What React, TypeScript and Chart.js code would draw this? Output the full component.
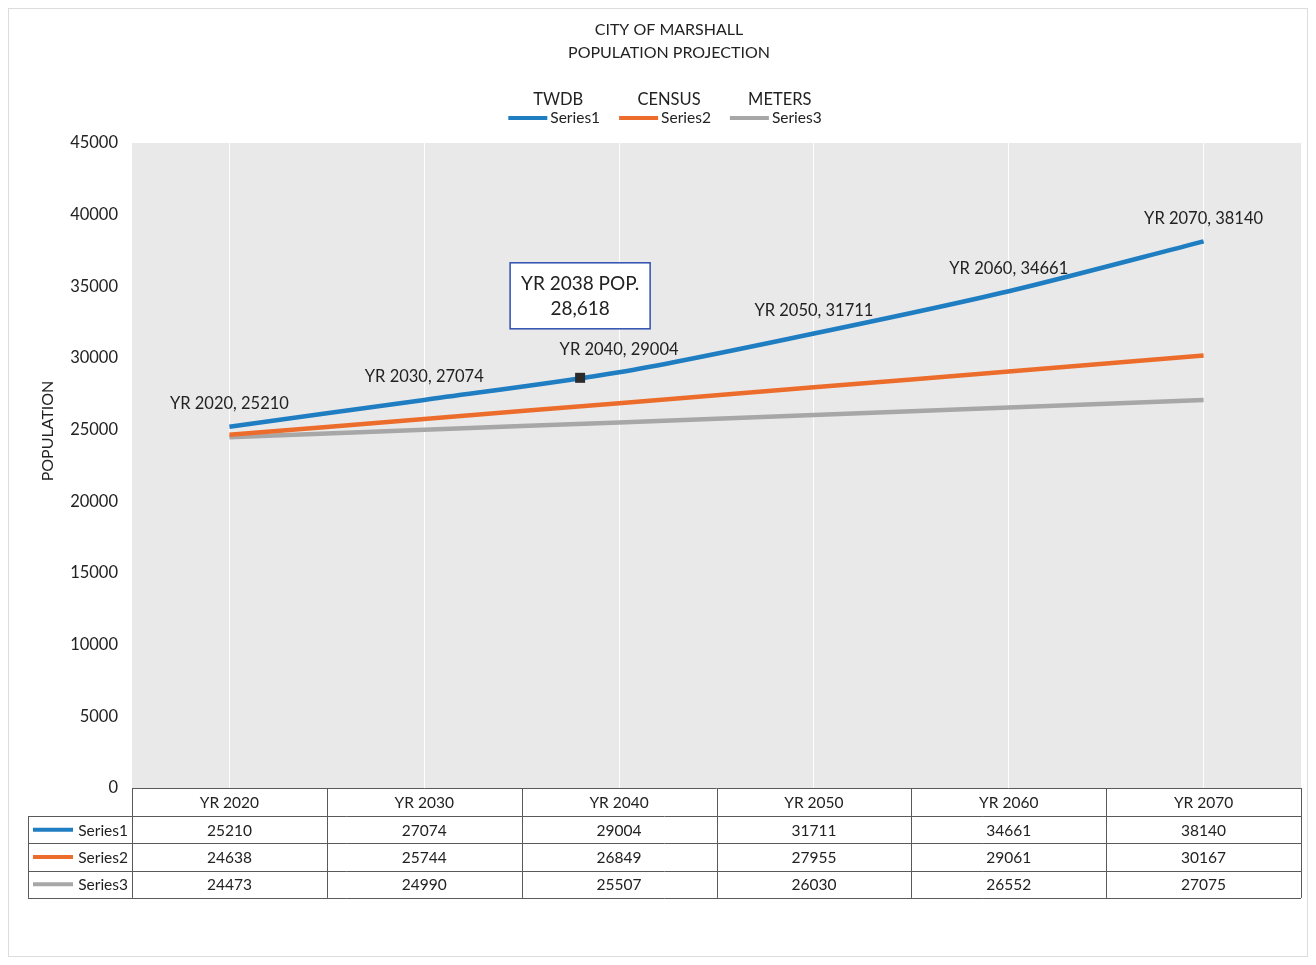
import React, { useEffect, useRef } from "react";
import { Chart, registerables } from "chart.js";

Chart.register(...registerables);

// ---------- data ----------
const categories = ["YR 2020", "YR 2030", "YR 2040", "YR 2050", "YR 2060", "YR 2070"];
const years = [2020, 2030, 2040, 2050, 2060, 2070];
const series1 = [25210, 27074, 29004, 31711, 34661, 38140];
const series2 = [24638, 25744, 26849, 27955, 29061, 30167];
const series3 = [24473, 24990, 25507, 26030, 26552, 27075];
const seriesNames = ["Series1", "Series2", "Series3"];
const legendGroups = ["TWDB", "CENSUS", "METERS"];
const titleLines = ["CITY OF MARSHALL", "POPULATION PROJECTION"];
const yAxisTitle = "POPULATION";
const yMin = 0;
const yMax = 45000;
const yStep = 5000;
const annotationYear = 2038;
const annotationPop = 28618;
const annotationLines = ["YR 2038 POP.", "28,618"];

const seriesColors = ["#1f7dc2", "#ec6c2c", "#a7a7a7"];
const FONT = "Lato, 'Open Sans', 'DejaVu Sans', sans-serif";
const TEXT = "#222222";

function font(size: number) {
  return `${size}px ${FONT}`;
}

const decorPlugin = {
  id: "decor",
  beforeDraw(chart: any) {
    const { ctx, chartArea, width, height } = chart;
    ctx.save();
    ctx.strokeStyle = "#dcdcdc";
    ctx.lineWidth = 1;
    ctx.strokeRect(0.5, 0.5, width - 1, height - 1);
    ctx.fillStyle = "#e9e9e9";
    ctx.fillRect(chartArea.left, chartArea.top, chartArea.right - chartArea.left, chartArea.bottom - chartArea.top);
    ctx.restore();
  },
  afterDatasetsDraw(chart: any) {
    const { ctx } = chart;
    const xs = chart.scales.x;
    const ys = chart.scales.y;
    ctx.save();
    ctx.font = font(16.5);
    ctx.fillStyle = TEXT;
    ctx.textAlign = "center";
    ctx.textBaseline = "middle";
    series1.forEach((v, i) => {
      const x = xs.getPixelForValue(i);
      const y = ys.getPixelForValue(v);
      ctx.fillText(`${categories[i]}, ${v}`, x, y - 23);
    });
    const idx = (annotationYear - years[0]) / (years[1] - years[0]);
    const mx = xs.getPixelForValue(idx);
    const my = ys.getPixelForValue(annotationPop);
    ctx.fillStyle = "#2b2b2b";
    ctx.fillRect(mx - 5, my - 5, 10, 10);
    const bw = 140;
    const bh = 66;
    const bx = mx - bw / 2;
    const by = my - 49 - bh;
    ctx.fillStyle = "#ffffff";
    ctx.fillRect(bx, by, bw, bh);
    ctx.strokeStyle = "#2e4fb0";
    ctx.lineWidth = 1.5;
    ctx.strokeRect(bx, by, bw, bh);
    ctx.fillStyle = TEXT;
    ctx.font = font(19);
    ctx.fillText(annotationLines[0], bx + bw / 2, by + bh / 2 - 12);
    ctx.fillText(annotationLines[1], bx + bw / 2, by + bh / 2 + 13);
    ctx.restore();
  },
  afterDraw(chart: any) {
    const { ctx, chartArea } = chart;
    const xs = chart.scales.x;
    ctx.save();
    ctx.fillStyle = TEXT;
    ctx.textBaseline = "middle";
    ctx.textAlign = "center";

    const cx = 661;
    ctx.font = font(16);
    ctx.fillText(titleLines[0], cx, 22);
    ctx.fillText(titleLines[1], cx, 45);

    const lineLen = 39;
    const gap = 3;
    const itemGap = 19;
    ctx.font = font(15.5);
    const widths = seriesNames.map((n) => lineLen + gap + ctx.measureText(n).width);
    const total = widths.reduce((a, b) => a + b, 0) + itemGap * (widths.length - 1);
    let lx = cx - 4 - total / 2;
    seriesNames.forEach((n, i) => {
      const w = widths[i];
      ctx.strokeStyle = seriesColors[i];
      ctx.lineWidth = 4;
      ctx.beginPath();
      ctx.moveTo(lx, 110);
      ctx.lineTo(lx + lineLen, 110);
      ctx.stroke();
      ctx.textAlign = "left";
      ctx.font = font(15.5);
      ctx.fillText(n, lx + lineLen + gap, 110);
      ctx.textAlign = "center";
      ctx.font = font(16.5);
      ctx.fillText(legendGroups[i], lx + w / 2 + 4, 92);
      lx += w + itemGap;
    });

    ctx.save();
    ctx.translate(40, 423);
    ctx.rotate(-Math.PI / 2);
    ctx.font = font(16);
    ctx.textAlign = "center";
    ctx.fillText(yAxisTitle, 0, 0);
    ctx.restore();

    const left = chartArea.left;
    const right = chartArea.right;
    const top = chartArea.bottom;
    const colW = (right - left) / categories.length;
    const headH = 28;
    const rowH = 27.3;
    const labelLeft = 20;
    const tableBottom = top + headH + rowH * 3;
    ctx.strokeStyle = "#5a5a5a";
    ctx.lineWidth = 1;
    const sx = (v: number) => Math.round(v) + 0.5;
    ctx.beginPath();
    ctx.moveTo(left, sx(top));
    ctx.lineTo(right, sx(top));
    for (let r = 0; r <= 3; r++) {
      const y = sx(top + headH + rowH * r);
      ctx.moveTo(labelLeft, y);
      ctx.lineTo(right, y);
    }
    ctx.moveTo(sx(labelLeft), top + headH);
    ctx.lineTo(sx(labelLeft), tableBottom);
    for (let c = 0; c <= categories.length; c++) {
      const x = sx(left + colW * c);
      ctx.moveTo(x, top);
      ctx.lineTo(x, tableBottom);
    }
    ctx.stroke();

    ctx.fillStyle = TEXT;
    ctx.textAlign = "center";
    ctx.font = font(15.5);
    categories.forEach((c, i) => {
      ctx.fillText(c, xs.getPixelForValue(i), top + headH / 2 + 1);
    });
    const allSeries = [series1, series2, series3];
    allSeries.forEach((s, r) => {
      const y = top + headH + rowH * r + rowH / 2 + 1;
      ctx.textAlign = "center";
      s.forEach((v, i) => {
        ctx.fillText(String(v), xs.getPixelForValue(i), y);
      });
      ctx.strokeStyle = seriesColors[r];
      ctx.lineWidth = 4;
      ctx.beginPath();
      ctx.moveTo(labelLeft + 5, y - 1);
      ctx.lineTo(labelLeft + 45, y - 1);
      ctx.stroke();
      ctx.textAlign = "right";
      ctx.fillText(seriesNames[r], left - 4, y);
    });
    ctx.restore();
  },
};

export default function App() {
  const ref = useRef<HTMLCanvasElement | null>(null);
  useEffect(() => {
    let chart: Chart | null = null;
    let cancelled = false;
    const make = () => {
      if (cancelled || !ref.current) return;
      chart = new Chart(ref.current, {
        type: "line",
        data: {
          labels: categories,
          datasets: [series1, series2, series3].map((d, i) => ({
            label: seriesNames[i],
            data: d,
            borderColor: seriesColors[i],
            backgroundColor: seriesColors[i],
            borderWidth: 4.5,
            borderCapStyle: "butt" as const,
            pointRadius: 0,
            tension: 0.3,
            fill: false,
          })),
        },
        options: {
          responsive: false,
          animation: false,
          layout: { padding: { top: 135, right: 7, bottom: 59, left: 0 } },
          plugins: {
            legend: { display: false },
            title: { display: false },
            tooltip: { enabled: false },
          },
          scales: {
            x: {
              type: "category",
              offset: true,
              grid: { display: true, offset: false, color: "rgba(255,255,255,0.95)", lineWidth: 1, drawTicks: false },
              border: { display: false },
              ticks: { display: false },
              afterFit: (s: any) => {
                s.height = 110;
              },
            },
            y: {
              min: yMin,
              max: yMax,
              ticks: {
                stepSize: yStep,
                padding: 14,
                font: { family: FONT, size: 16.5 },
                color: TEXT,
                callback: (v: any) => String(v),
              },
              grid: { display: false, drawTicks: false },
              border: { display: false },
              afterFit: (s: any) => {
                s.width = 124;
              },
            },
          },
        },
        plugins: [decorPlugin],
      });
    };
    const fontsApi: any = (document as any).fonts;
    if (fontsApi && fontsApi.load) {
      Promise.all([fontsApi.load(font(16)), fontsApi.load(font(19))]).then(make, make);
    } else {
      make();
    }
    return () => {
      cancelled = true;
      if (chart) chart.destroy();
    };
  }, []);
  return (
    <canvas
      ref={ref}
      width={1300}
      height={949}
      style={{ display: "block", width: 1300, height: 949 }}
    />
  );
}
